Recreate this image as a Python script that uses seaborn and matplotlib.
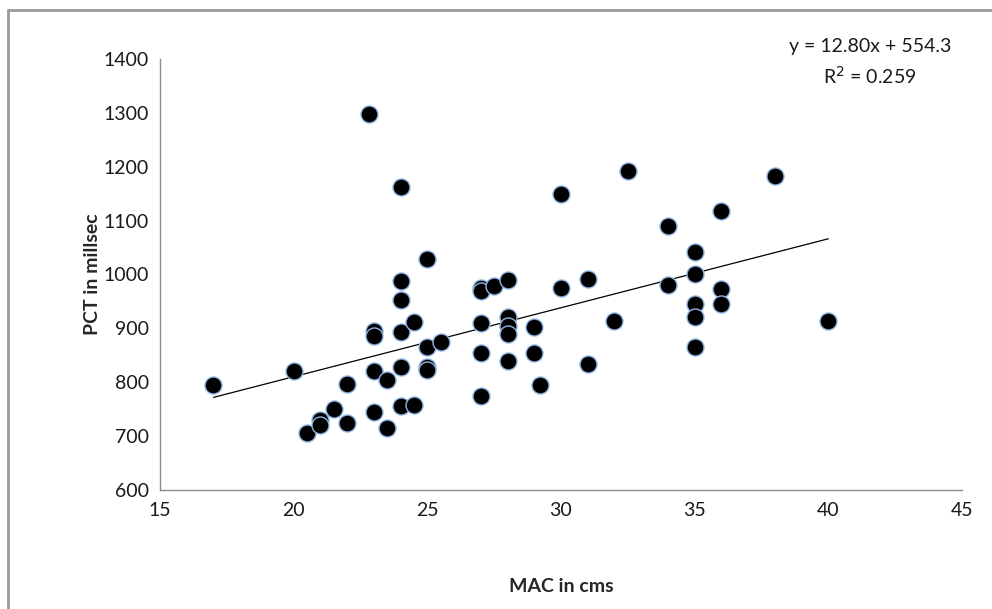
import numpy as np
import seaborn as sns
import matplotlib.pyplot as plt
from matplotlib.lines import Line2D

sns.set_style('white')
plt.rcParams['font.family'] = ['Lato', 'DejaVu Sans']

# MAC (cm) vs PCT (ms)
mac = [17, 20, 20.5, 21, 21, 21.5, 22, 22, 22.8, 23, 23, 23, 23,
       23.5, 23.5, 24, 24, 24, 24, 24, 24, 24.5, 24.5, 25, 25, 25, 25,
       25.5, 27, 27, 27, 27, 27, 27.5, 28, 28, 28, 28, 28, 29, 29, 29.2,
       30, 30, 31, 31, 32, 32.5, 34, 34, 35, 35, 35, 35, 35, 36, 36, 36,
       38, 40]
pct = [795, 820, 705, 730, 720, 750, 797, 725, 1297, 895, 885, 820, 745,
       805, 715, 1162, 988, 952, 893, 828, 755, 912, 757, 1028, 865, 828, 822,
       875, 975, 970, 910, 855, 775, 978, 990, 922, 905, 890, 840, 903, 855, 795,
       1150, 975, 992, 833, 913, 1192, 1090, 980, 1042, 1000, 945, 922, 865, 1117, 973, 945,
       1182, 913]

# trendline as printed on the chart
slope = 12.80
intercept = 554.3
r2 = 0.259

fig = plt.figure(figsize=(9.92, 6.09), dpi=100)
ax = fig.add_axes([160 / 992, 1 - 490 / 609, (962 - 160) / 992, (490 - 59) / 609])

sns.scatterplot(x=mac, y=pct, ax=ax, color='black', s=150,
                edgecolor='#8fb4e3', linewidth=1.0, zorder=3)

xs = np.array([min(mac), max(mac)])
ax.plot(xs, slope * xs + intercept, color='black', linewidth=0.9, zorder=2)

ax.set_xlim(15, 45)
ax.set_ylim(600, 1400)
ax.set_xticks(range(15, 46, 5))
ax.set_yticks(range(600, 1401, 100))

for side in ['top', 'right']:
    ax.spines[side].set_visible(False)
for side in ['left', 'bottom']:
    ax.spines[side].set_color('#8c8c8c')
    ax.spines[side].set_linewidth(1.0)

ax.tick_params(axis='both', direction='out', length=6, width=1.0,
               color='#8c8c8c', labelsize=14, labelcolor='#1a1a1a')
ax.tick_params(axis='x', pad=3)
ax.tick_params(axis='y', pad=2)

ax.set_xlabel('MAC in cms', fontsize=14, fontweight='bold', labelpad=42)
ax.set_ylabel('PCT in millsec', fontsize=14, fontweight='bold', labelpad=2)

ax.text(0.885, 1.03, f'y = {slope:.2f}x + {intercept}', transform=ax.transAxes,
        ha='center', va='center', fontsize=14, color='#1a1a1a')
ax.text(0.885, 0.96, f'R$^2$ = {r2}', transform=ax.transAxes,
        ha='center', va='center', fontsize=14, color='#1a1a1a')

# chart-area border (top and left edges visible in the crop)
fig.add_artist(Line2D([8 / 992, 8 / 992], [0, 1 - 10 / 609], color='#9a9a9a', linewidth=2))
fig.add_artist(Line2D([8 / 992, 1], [1 - 10 / 609, 1 - 10 / 609], color='#9a9a9a', linewidth=2))

plt.savefig('out.png', dpi=100)
